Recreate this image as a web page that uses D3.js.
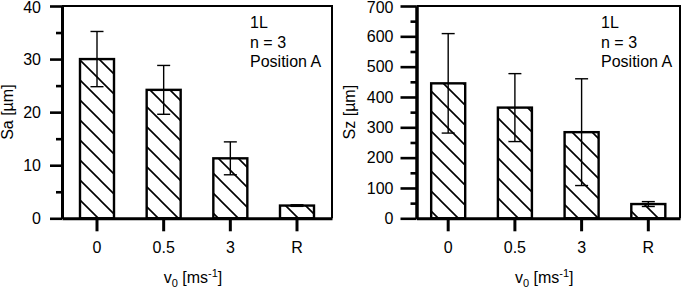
<!DOCTYPE html>
<html>
<head>
<meta charset="utf-8">
<script src="https://cdn.jsdelivr.net/npm/d3@7"></script>
<style>
  body { margin: 0; background: #fff; }
  svg { display: block; font-family: "Liberation Sans", Arial, sans-serif; }
</style>
</head>
<body>
<div id="chart"></div>
<script>
// data
var categories = ['0', '0.5', '3', 'R'];
var saMean = [30.0, 24.2, 11.3, 2.4];
var saErr = [5.2, 4.6, 3.1, 0.15];
var szMean = [445, 365, 284, 47];
var szErr = [164, 112, 176, 8];
var saTicks = [0, 10, 20, 30, 40];
var szTicks = [0, 100, 200, 300, 400, 500, 600, 700];
var notes = ['1L', 'n = 3', 'Position A'];

var svg = d3.select('#chart')
  .append('svg')
  .attr('width', 685)
  .attr('height', 291);

// hatch pattern, "\" lines
var defs = svg.append('defs');
var pat = defs.append('pattern')
  .attr('id', 'hatch')
  .attr('patternUnits', 'userSpaceOnUse')
  .attr('width', 20)
  .attr('height', 20);
pat.append('rect').attr('width', 20).attr('height', 20).attr('fill', '#fff');
pat.append('path')
  .attr('d', 'M-5,-5L25,25M-5,15L5,25M15,-5L25,5')
  .attr('stroke', '#000')
  .attr('stroke-width', 1.6);

var FS = 16;

function panel(opts) {
  var top = 6, bottom = 218.3;
  var g = svg.append('g');

  var x = d3.scaleBand()
    .domain(categories)
    .range([opts.left, opts.right])
    .paddingInner(0.49)
    .paddingOuter(opts.outer);

  var y = d3.scaleLinear().domain([0, opts.max]).range([bottom, top]);

  // frame (top / right)
  g.append('path')
    .attr('d', 'M' + opts.left + ',' + top + 'H' + opts.right + 'V' + bottom)
    .attr('fill', 'none')
    .attr('stroke', '#000')
    .attr('stroke-width', 2);

  // bars
  g.selectAll('rect.bar')
    .data(opts.mean)
    .enter()
    .append('rect')
    .attr('class', 'bar')
    .attr('x', function (d, i) { return x(categories[i]); })
    .attr('y', function (d) { return y(d); })
    .attr('width', x.bandwidth())
    .attr('height', function (d) { return bottom - y(d); })
    .attr('fill', 'url(#hatch)')
    .attr('stroke', '#000')
    .attr('stroke-width', 2.4);

  // error bars
  var eg = g.append('g').attr('stroke', '#000').attr('stroke-width', 1.4);
  opts.mean.forEach(function (m, i) {
    var cx = x(categories[i]) + x.bandwidth() / 2;
    var hi = y(m + opts.err[i]), lo = y(m - opts.err[i]);
    eg.append('line').attr('x1', cx).attr('x2', cx).attr('y1', hi).attr('y2', lo);
    eg.append('line').attr('x1', cx - 6.5).attr('x2', cx + 6.5).attr('y1', hi).attr('y2', hi);
    eg.append('line').attr('x1', cx - 6.5).attr('x2', cx + 6.5).attr('y1', lo).attr('y2', lo);
  });

  // y axis: minor ticks then major
  var yAxis = g.append('g').attr('transform', 'translate(' + opts.left + ',0)');
  yAxis.call(d3.axisLeft(y).tickValues(opts.minor).tickSize(opts.minorLen).tickFormat('').tickSizeOuter(0));
  var yMaj = g.append('g').attr('transform', 'translate(' + opts.left + ',0)');
  yMaj.call(d3.axisLeft(y).tickValues(opts.ticks).tickSize(opts.majorLen).tickPadding(opts.pad).tickSizeOuter(0));
  [yAxis, yMaj].forEach(function (a) {
    a.select('.domain').attr('stroke-width', 3);
    a.selectAll('line').attr('stroke-width', 2.6);
    a.selectAll('text').attr('font-size', FS).attr('fill', '#000')
      .attr('font-family', '"Liberation Sans", Arial, sans-serif');
  });
  // keep the top label inside the picture
  yMaj.selectAll('text').filter(function (d) { return d === opts.max; }).attr('dy', '0.4em');

  // x axis
  var xAxis = g.append('g').attr('transform', 'translate(0,' + bottom + ')');
  xAxis.call(d3.axisBottom(x).tickSize(13).tickPadding(10).tickSizeOuter(0));
  xAxis.select('.domain').attr('stroke-width', 3);
  xAxis.selectAll('line').attr('stroke-width', 3);
  xAxis.selectAll('text').attr('font-size', FS).attr('fill', '#000')
    .attr('font-family', '"Liberation Sans", Arial, sans-serif');

  // axis titles
  var xt = g.append('text')
    .attr('x', (opts.left + opts.right) / 2 - 4)
    .attr('y', 283)
    .attr('text-anchor', 'middle')
    .attr('font-size', FS);
  xt.append('tspan').text('v');
  xt.append('tspan').attr('dy', 4).attr('font-size', 11).text('0');
  xt.append('tspan').attr('dy', -4).text(' [ms');
  xt.append('tspan').attr('dy', -6).attr('font-size', 11).text('-1');
  xt.append('tspan').attr('dy', 6).text(']');

  g.append('text')
    .attr('transform', 'translate(' + opts.titleX + ',' + ((top + bottom) / 2) + ') rotate(-90)')
    .attr('text-anchor', 'middle')
    .attr('font-size', FS)
    .text(opts.title);

  // annotation
  var ann = g.append('text').attr('font-size', FS);
  notes.forEach(function (t, i) {
    ann.append('tspan').attr('x', opts.noteX).attr('y', 28 + i * 19.5).text(t);
  });
}

panel({
  left: 62, right: 332, outer: 0.27, max: 40,
  mean: saMean, err: saErr, ticks: saTicks,
  minor: [5, 15, 25, 35], majorLen: 12, minorLen: 6, pad: 9,
  title: 'Sa [\u00b5m]', titleX: 13, noteX: 250
});

panel({
  left: 416.5, right: 680, outer: 0.22, max: 700,
  mean: szMean, err: szErr, ticks: szTicks,
  minor: [50, 150, 250, 350, 450, 550, 650], majorLen: 16, minorLen: 6, pad: 7,
  title: 'Sz [\u00b5m]', titleX: 355, noteX: 601
});
</script>
</body>
</html>
